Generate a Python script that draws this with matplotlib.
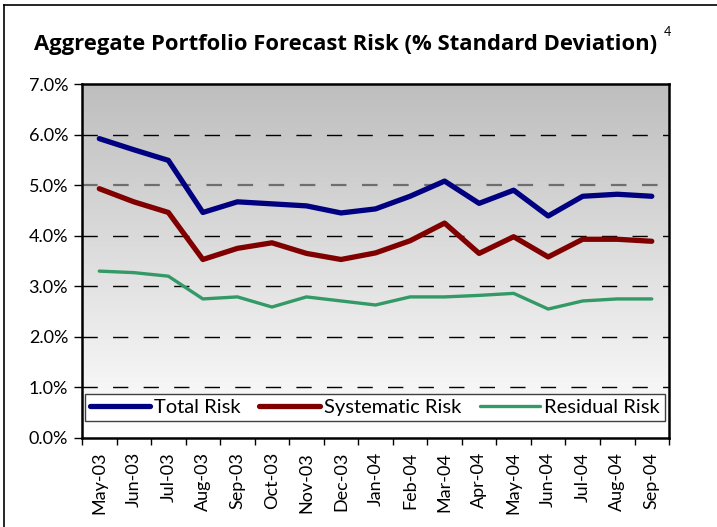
import numpy as np
import matplotlib
matplotlib.use("Agg")
import matplotlib.pyplot as plt
from matplotlib.lines import Line2D
from matplotlib.colors import LinearSegmentedColormap

plt.rcParams['font.family'] = ['Lato', 'DejaVu Sans']

months = ["May-03", "Jun-03", "Jul-03", "Aug-03", "Sep-03", "Oct-03", "Nov-03",
          "Dec-03", "Jan-04", "Feb-04", "Mar-04", "Apr-04", "May-04", "Jun-04",
          "Jul-04", "Aug-04", "Sep-04"]
total_risk = [5.92, 5.70, 5.49, 4.46, 4.67, 4.63, 4.59, 4.45, 4.53, 4.78,
              5.08, 4.64, 4.90, 4.39, 4.78, 4.82, 4.78]
systematic_risk = [4.93, 4.67, 4.46, 3.53, 3.75, 3.86, 3.65, 3.53, 3.66, 3.90,
                   4.25, 3.65, 3.98, 3.58, 3.93, 3.93, 3.89]
residual_risk = [3.30, 3.27, 3.20, 2.75, 2.79, 2.59, 2.79, 2.71, 2.63, 2.79,
                 2.79, 2.82, 2.86, 2.55, 2.71, 2.75, 2.75]

fig = plt.figure(figsize=(7.17, 5.27), dpi=100)
ax = fig.add_axes([0.1144, 0.1689, 0.8187, 0.6717])

x = np.arange(len(months))

# gray-to-white background
grad = np.linspace(0, 1, 256).reshape(-1, 1)
cmap = LinearSegmentedColormap.from_list("bg", ["#BEBEBE", "#FFFFFF"])
ax.imshow(grad, aspect="auto", cmap=cmap, extent=[0, 1, 0, 1],
          transform=ax.transAxes, zorder=0)

# dashed gridlines
for v in range(1, 7):
    if v == 5:
        ax.axhline(v, color="#6E6E6E", lw=1.6, ls=(0, (7, 7)), zorder=1)
    else:
        ax.axhline(v, color="black", lw=1, ls=(0, (11, 11)), zorder=1)

ax.plot(x, total_risk, color="#000080", lw=3.8, label="Total Risk",
        solid_capstyle="round", zorder=3)
ax.plot(x, systematic_risk, color="#800000", lw=3.8, label="Systematic Risk",
        solid_capstyle="round", zorder=3)
ax.plot(x, residual_risk, color="#339966", lw=2.4, label="Residual Risk",
        solid_capstyle="round", zorder=3)

ax.set_xlim(-0.5, len(months) - 0.5)
ax.set_ylim(0, 7)
ax.set_yticks(range(0, 8))
ax.set_yticklabels([f"{v:.1f}%" for v in range(0, 8)], fontsize=13)
ax.set_xticks(x)
ax.set_xticklabels(months, rotation=90, fontsize=13)
ax.set_xticks(np.arange(-0.5, len(months)), minor=True)
ax.tick_params(axis="x", which="major", length=0, pad=10)
ax.tick_params(axis="x", which="minor", length=5, width=1, direction="out")
ax.tick_params(axis="y", length=6, width=1, direction="out", pad=4)

for s in ax.spines.values():
    s.set_linewidth(1.8)
    s.set_color("black")

leg = ax.legend(loc="lower left", bbox_to_anchor=(0.005, 0.048, 0.988, 0.09),
                mode="expand", ncol=3, fontsize=14.5, frameon=True,
                fancybox=False, framealpha=1, edgecolor="#404040",
                handlelength=3.0, borderaxespad=0, columnspacing=0.6,
                handletextpad=0.2, borderpad=0.25)
leg.get_frame().set_linewidth(1)
leg.set_zorder(5)

fig.text(0.482, 0.915, "Aggregate Portfolio Forecast Risk (% Standard Deviation)",
         ha="center", va="center", fontsize=15.8, fontweight="bold",
         family=["Open Sans", "DejaVu Sans"])
fig.text(0.926, 0.94, "4", ha="left", va="center", fontsize=9)

# outer frame lines (top and left)
fig.add_artist(Line2D([0.005, 1.0], [0.99, 0.99], color="black", lw=1.2))
fig.add_artist(Line2D([0.005, 0.005], [0.0, 0.99], color="black", lw=1.2))

fig.savefig("out.png", dpi=100)
